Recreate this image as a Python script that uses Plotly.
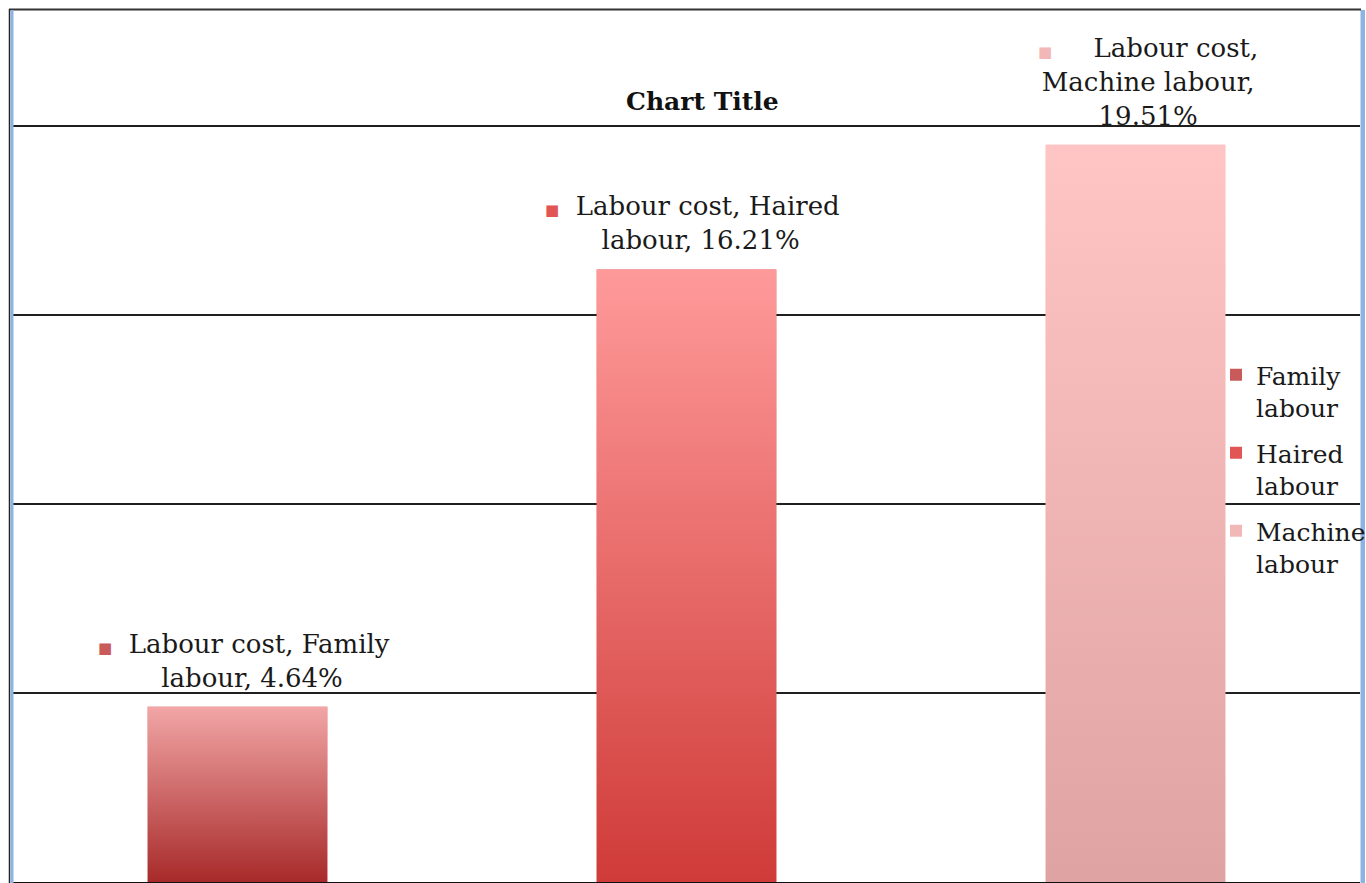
import plotly.graph_objects as go

series_name = "Labour cost"
categories = ["Family labour", "Haired labour", "Machine labour"]
legend_names = ["Family<br>labour", "Haired<br>labour", "Machine<br>labour"]
values = [4.64, 16.21, 19.51]

top_colors = ["#f2a6a6", "#ff9a9a", "#ffc4c4"]
bottom_colors = ["#a82a2a", "#cf3b38", "#dfa3a3"]
key_colors = ["#c85a5a", "#e25555", "#f2b8b8"]

bar_width = 0.4
FONT = "DejaVu Serif"

fig = go.Figure()

# plain bars: give the legend entries
for i, cat in enumerate(categories):
    fig.add_trace(
        go.Bar(
            x=[i],
            y=[values[i]],
            width=bar_width,
            name=legend_names[i],
            legendgroup=cat,
            marker=dict(color=key_colors[i], line=dict(width=0)),
            hoverinfo="skip",
        )
    )

# gradient overlay on each bar (scatter fill, bars have no gradient)
for i, cat in enumerate(categories):
    x0, x1 = i - bar_width / 2, i + bar_width / 2
    fig.add_trace(
        go.Scatter(
            x=[x0, x1, x1, x0, x0],
            y=[0, 0, values[i], values[i], 0],
            mode="lines",
            line=dict(width=0),
            fill="toself",
            fillgradient=dict(
                type="vertical",
                colorscale=[[0, bottom_colors[i]], [1, top_colors[i]]],
            ),
            showlegend=False,
            legendgroup=cat,
            hoverinfo="skip",
        )
    )

# data labels: legend key + "series, category, value"
label_texts = [
    "<span style='font-size:15px;color:%s'>■</span>&nbsp;&nbsp;Labour cost, Family<br>&nbsp;&nbsp;labour, 4.64%%"
    % key_colors[0],
    "<span style='font-size:15px;color:%s'>■</span>&nbsp;&nbsp;Labour cost, Haired<br>&nbsp;&nbsp;labour, 16.21%%"
    % key_colors[1],
    "<span style='font-size:15px;color:%s'>■</span>&nbsp;&nbsp;&nbsp;&nbsp;&nbsp;Labour cost,<br>Machine labour,<br>19.51%%"
    % key_colors[2],
]
xshifts = [6, 6, 12]
for i in range(len(categories)):
    fig.add_annotation(
        x=i,
        y=values[i],
        text=label_texts[i],
        showarrow=False,
        xanchor="center",
        yanchor="bottom",
        align="center",
        xshift=xshifts[i],
        yshift=12,
        font=dict(family=FONT, size=26, color="#1a1a1a"),
    )

fig.add_annotation(
    x=0.512,
    y=0.8935,
    xref="paper",
    yref="paper",
    text="<b>Chart Title</b>",
    showarrow=False,
    xanchor="center",
    yanchor="middle",
    font=dict(family=FONT, size=25, color="#111111"),
)

# chart frame: black outer border plus blue edges (pixel -> paper coords)
W = 1347.0
H = 873.0


def px(x):
    return (x - 13) / W


def py(y):
    return (882 - y) / H


fig.add_shape(type="line", xref="paper", yref="paper", x0=px(9), x1=px(1361),
              y0=py(9.5), y1=py(9.5), line=dict(color="#333333", width=2))
fig.add_shape(type="line", xref="paper", yref="paper", x0=px(9.5), x1=px(9.5),
              y0=py(9), y1=py(883), line=dict(color="#222222", width=1.5))
fig.add_shape(type="rect", xref="paper", yref="paper", x0=px(10.5), x1=px(13.5),
              y0=py(10), y1=py(883), line=dict(width=0), fillcolor="#8db3e2")
fig.add_shape(type="rect", xref="paper", yref="paper", x0=px(1360.5), x1=px(1365),
              y0=py(10), y1=py(883), line=dict(width=0), fillcolor="#8db3e2",
              layer="below")

fig.update_layout(
    width=1366,
    height=883,
    margin=dict(l=13, r=6, t=9, b=1, autoexpand=False),
    paper_bgcolor="white",
    plot_bgcolor="rgba(0,0,0,0)",
    font=dict(family=FONT, size=25, color="#1a1a1a"),
    showlegend=True,
    legend=dict(
        x=px(1216),
        y=py(352),
        xanchor="left",
        yanchor="top",
        bgcolor="rgba(0,0,0,0)",
        valign="top",
        tracegroupgap=10,
        font=dict(family=FONT, size=25, color="#1a1a1a"),
    ),
    xaxis=dict(
        range=[-0.5, 2.5],
        showticklabels=False,
        showgrid=False,
        zeroline=False,
        showline=True,
        linecolor="#111111",
        linewidth=2,
        ticks="",
        fixedrange=True,
    ),
    yaxis=dict(
        range=[0, 23.1],
        dtick=5,
        showticklabels=False,
        showgrid=True,
        gridcolor="#1f1f1f",
        gridwidth=1.5,
        zeroline=False,
        showline=False,
        ticks="",
        fixedrange=True,
    ),
    hovermode=False,
)

# drop the default body margin so the figure fills the window exactly
fig.write_html(
    "out.html",
    config={"responsive": False, "displayModeBar": False},
    post_script="document.body.style.margin='0';",
)
